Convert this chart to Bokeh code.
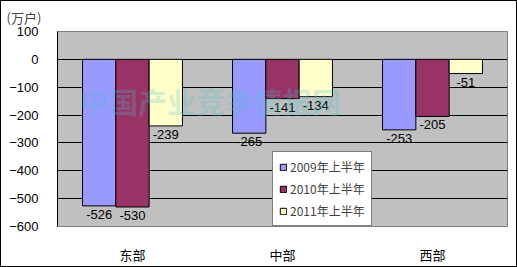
from bokeh.plotting import figure
from bokeh.layouts import column
from bokeh.models import ColumnDataSource, FactorRange, Range1d, Label, Legend, LegendItem, FixedTicker
from bokeh.transform import dodge
from bokeh.core.properties import value
from bokeh.embed import file_html
from bokeh.resources import INLINE

# Regions and half-year changes (10k households)
regions = ["东部", "中部", "西部"]
series_names = ["2009年上半年", "2010年上半年", "2011年上半年"]
h1_2009 = [-526, -265, -253]
h1_2010 = [-530, -141, -205]
h1_2011 = [-239, -134, -51]
y_ticks = [100, 0, -100, -200, -300, -400, -500, -600]

colors = ["#9999FF", "#993366", "#FFFFCC"]
offsets = [-0.222, 0.0, 0.222]
bar_w = 0.222

CJK = "Noto Sans CJK SC"
NUM = "Liberation Sans"

fig = figure(
    width=515, height=265,
    x_range=FactorRange(factors=regions, range_padding=0),
    y_range=Range1d(-600, 100),
    output_backend="svg", toolbar_location=None,
    min_border_left=56, min_border_right=9, min_border_top=28, min_border_bottom=38,
    background_fill_color="#C0C0C0", border_fill_color="white",
)
fig.outline_line_color = "#808080"
fig.outline_line_width = 1

# unit caption in the title slot, pulled left over the tick labels
fig.title.text = "(万户)"
fig.title.text_font = CJK
fig.title.text_font_size = "13px"
fig.title.text_font_style = "normal"
fig.title.align = "left"
fig.title.offset = -51
fig.title.standoff = 9

src = ColumnDataSource(dict(
    region=regions,
    s0=h1_2009, s1=h1_2010, s2=h1_2011,
    t0=[str(v) for v in h1_2009],
    t1=[str(v) for v in h1_2010],
    t2=[str(v) for v in h1_2011],
))

items = []
for i, name in enumerate(series_names):
    r = fig.vbar(x=dodge("region", offsets[i], range=fig.x_range), top=f"s{i}", bottom=0,
                 width=bar_w, source=src, fill_color=colors[i],
                 line_color="black", line_width=1)
    items.append(LegendItem(label=name, renderers=[r]))
    fig.text(x=dodge("region", offsets[i], range=fig.x_range), y=f"s{i}", text=f"t{i}",
             source=src, text_align="center", text_baseline="top", y_offset=4,
             text_font=value(NUM), text_font_size="13px", text_color="black")

# grid and axes
fig.xgrid.grid_line_color = None
fig.ygrid.grid_line_color = "black"
fig.ygrid.grid_line_width = 1
fig.yaxis.ticker = FixedTicker(ticks=y_ticks)
fig.yaxis.axis_line_color = "black"
fig.yaxis.major_tick_out = 0
fig.yaxis.major_tick_in = 0
fig.yaxis.minor_tick_line_color = None
fig.yaxis.major_label_standoff = 19
fig.yaxis.major_label_text_font = NUM
fig.yaxis.major_label_text_font_size = "13px"
fig.yaxis.major_label_text_color = "black"

fig.xaxis.axis_line_color = None
fig.xaxis.major_tick_line_color = None
fig.xaxis.minor_tick_line_color = None
fig.xaxis.major_label_standoff = 12
fig.xaxis.major_label_text_font = CJK
fig.xaxis.major_label_text_font_size = "13px"
fig.xaxis.major_label_text_color = "black"

# watermark
fig.add_layout(Label(x=0.15, y=-150, text="中国产业竞争情报网", text_font=CJK,
                     text_font_size="29px", text_font_style="bold", text_color="#4cc0cc",
                     text_alpha=0.25, text_baseline="middle"))

legend = Legend(items=items, location=(215, 0), orientation="vertical",
                background_fill_color="white", background_fill_alpha=1,
                border_line_color="black", border_line_width=1,
                glyph_width=8, glyph_height=8, label_standoff=3,
                label_text_font=CJK, label_text_font_size="12px",
                label_height=14, spacing=5, padding=6, margin=0)
fig.add_layout(legend)

# black frame around the whole chart
p = column(fig, styles={"border": "1px solid black"})

open("out.html", "w").write(file_html(p, INLINE))
